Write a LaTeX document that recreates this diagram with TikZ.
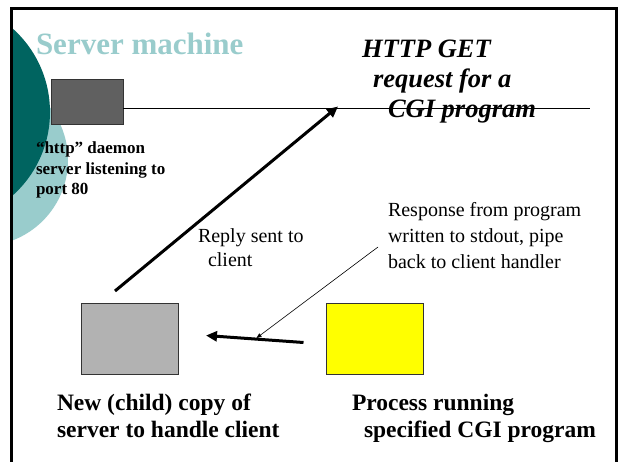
\documentclass[tikz,border=0pt]{standalone}
\usepackage{fontspec}
\setmainfont{Liberation Serif}
\usetikzlibrary{arrows.meta}

\definecolor{tealdark}{HTML}{006460}
\definecolor{teallight}{HTML}{99CCCC}
\definecolor{boxdark}{HTML}{606060}
\definecolor{boxlight}{HTML}{B2B2B2}
\definecolor{boxyellow}{HTML}{FFFF00}

\tikzset{
  procbox/.style={draw=black!80, line width=0.8pt, minimum width=#1, inner sep=0pt},
  txt/.style={anchor=base west, inner sep=0pt, outer sep=0pt},
  boldlabel/.style={txt, font=\fontsize{23.5}{27}\selectfont\bfseries},
  smalllabel/.style={txt, font=\fontsize{17}{20}\selectfont\bfseries},
  plainlabel/.style={txt, font=\fontsize{20}{24}\selectfont},
  titlelabel/.style={txt, font=\fontsize{26.5}{30}\selectfont\bfseries\itshape},
  thickarrow/.style={line width=3pt, -{Triangle[length=11pt,width=10pt]}},
  thinarrow/.style={line width=0.6pt, -{Triangle[length=5pt,width=4pt]}}
}

\begin{document}
\begin{tikzpicture}[x=1pt, y=-1pt]
  \useasboundingbox (0,0) rectangle (623,462);
  \fill[white] (0,0) rectangle (623,462);

  % decorative circles on the left, kept inside the frame
  \begin{scope}
    \clip (11.3,8.7) rectangle (616.3,462);
    \fill[teallight] (-18,160) circle (86);
    \fill[tealdark] (-62,112) circle (112);
  \end{scope}

  % frame, open at the bottom
  \draw[line width=2.5pt] (11.3,470) -- (11.3,8.7) -- (616.3,8.7) -- (616.3,470);

  % heading
  \node[txt, font=\fontsize{31}{34}\selectfont\bfseries, text=teallight]
    (title) at (36,55) {Server machine};

  % daemon box and its link line
  \node[procbox=72pt, minimum height=45pt, fill=boxdark] (daemon) at (87,101.5) {};
  \coordinate (linkStart) at (123,109);
  \coordinate (linkEnd) at (590,109);
  \draw[line width=1pt] (linkStart) -- (linkEnd);

  \node[smalllabel] (d1) at (36,154) {“http” daemon};
  \node[smalllabel] (d2) at (36,174.5) {server listening to};
  \node[smalllabel] (d3) at (36,195) {port 80};

  % request label
  \node[titlelabel] (g1) at (362,58) {HTTP GET};
  \node[titlelabel] (g2) at (373,88) {request for a};
  \node[titlelabel] (g3) at (388,117.5) {CGI program};

  % child and CGI process boxes
  \node[procbox=97pt, minimum height=71pt, fill=boxlight] (child) at (129.5,338.5) {};
  \node[procbox=97pt, minimum height=71pt, fill=boxyellow] (cgi) at (374.5,338.5) {};

  \node[boldlabel] (c1) at (57,410) {New (child) copy of};
  \node[boldlabel] (c2) at (57,437) {server to handle client};
  \node[boldlabel] (p1) at (352,410) {Process running};
  \node[boldlabel] (p2) at (364,437) {specified CGI program};

  % reply arrow
  \coordinate (replyStart) at (115,291);
  \coordinate (replyEnd) at (338,106.5);
  \draw[thickarrow] (replyStart) -- (replyEnd);
  \node[plainlabel] (r1) at (198,242) {Reply sent to};
  \node[plainlabel] (r2) at (208,266) {client};

  % pipe arrow from the CGI process back to the child
  \coordinate (pipeStart) at (303.5,342.5);
  \coordinate (pipeEnd) at (206,335.5);
  \draw[thickarrow] (pipeStart) -- (pipeEnd);

  \node[plainlabel] (s1) at (388,217) {Response from program};
  \node[plainlabel] (s2) at (388,243) {written to stdout, pipe};
  \node[plainlabel] (s3) at (388,268) {back to client handler};

  \coordinate (noteStart) at (378,247);
  \coordinate (noteEnd) at (256.5,338);
  \draw[thinarrow] (noteStart) -- (noteEnd);
\end{tikzpicture}
\end{document}
